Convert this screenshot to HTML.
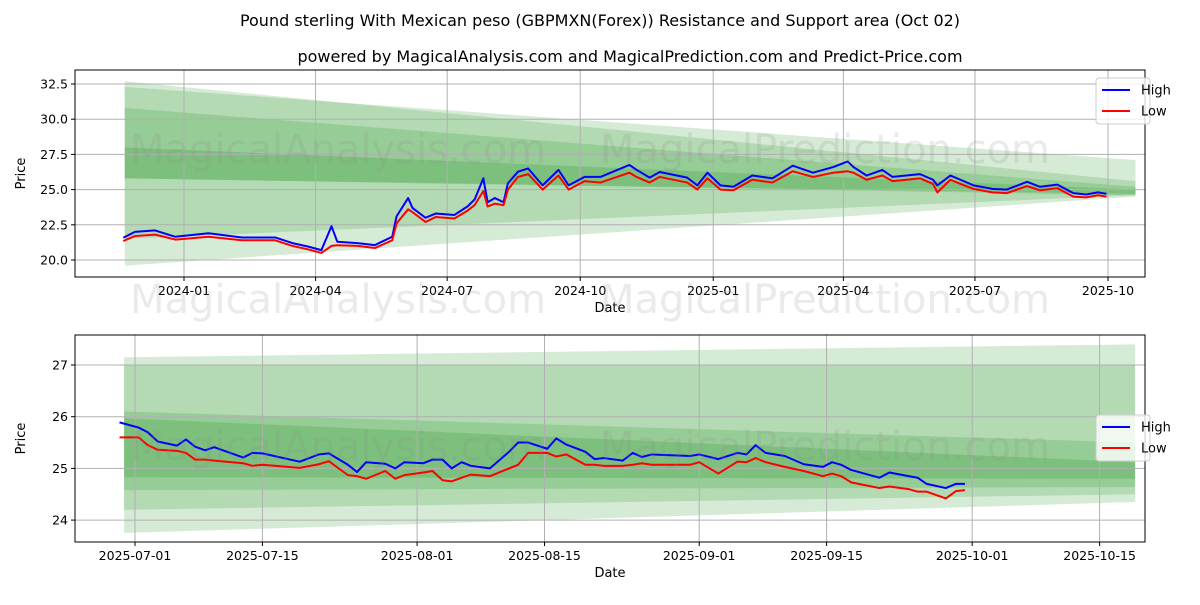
<!DOCTYPE html>
<html><head><meta charset="utf-8"><style>
body{margin:0;background:#fff;font-family:"Liberation Sans","DejaVu Sans",sans-serif}
svg text{font-family:"DejaVu Sans","Liberation Sans",sans-serif}
</style></head><body>
<svg id="s" width="1200" height="600" xmlns="http://www.w3.org/2000/svg">
<rect width="1200" height="600" fill="#fff"/>
<text x="600" y="26" text-anchor="middle" font-size="16">Pound sterling With Mexican peso (GBPMXN(Forex)) Resistance and Support area (Oct 02)</text>
<text x="630" y="62" text-anchor="middle" font-size="16">powered by MagicalAnalysis.com and MagicalPrediction.com and Predict-Price.com</text>
</svg>
<script>
// ---- top chart data (day offsets from 2024-01-01)
const topDays=[-42,-34,-20,-6,17,40,63,75,86,95,102,106,120,132,144,147,155,158,167,174,187,196,201,207,210,215,221,224,231,238,248,259,266,277,288,308,313,322,329,348,355,362,371,380,393,407,421,435,449,459,463,472,483,490,509,518,521,530,537,546,559,569,583,592,604,615,624,632,638];
const topHigh=[21.58,22.0,22.1,21.65,21.9,21.6,21.6,21.2,20.95,20.7,22.4,21.3,21.2,21.06,21.65,23.1,24.4,23.7,23.0,23.3,23.2,23.8,24.3,25.8,24.1,24.4,24.1,25.45,26.27,26.5,25.3,26.4,25.3,25.9,25.9,26.75,26.4,25.85,26.25,25.85,25.3,26.2,25.3,25.2,26.0,25.8,26.7,26.2,26.6,27.0,26.6,26.0,26.4,25.9,26.1,25.7,25.3,26.0,25.7,25.3,25.05,25.0,25.55,25.2,25.35,24.75,24.65,24.8,24.7];
const topLow=[21.35,21.7,21.8,21.45,21.65,21.4,21.4,21.0,20.75,20.5,21.0,21.05,21.0,20.85,21.4,22.6,23.6,23.4,22.7,23.05,22.95,23.5,23.9,24.9,23.8,24.0,23.9,25.0,25.9,26.1,25.0,26.0,25.0,25.6,25.5,26.2,25.9,25.5,25.9,25.5,25.0,25.8,25.0,24.95,25.7,25.5,26.3,25.9,26.2,26.3,26.2,25.7,26.0,25.6,25.8,25.4,24.8,25.7,25.4,25.05,24.8,24.75,25.25,24.95,25.1,24.5,24.45,24.6,24.5];
const topBands=[[32.7,19.6,25.6,24.5],[32.3,21.5,27.1,24.6],[30.8,25.8,25.2,24.7],[28.0,25.8,25.0,24.6]];
const topBandDays=[-41,658];
const topYTicks=[20.0,22.5,25.0,27.5,30.0,32.5];
const topXTicks=[0,91,182,274,366,456,547,639];
const topXLabels=["2024-01","2024-04","2024-07","2024-10","2025-01","2025-04","2025-07","2025-10"];
// ---- bottom chart data (day offsets from 2025-07-01)
const botDays=[-1.7,0.4,1.4,2.5,4.6,5.6,6.6,7.7,8.7,11.9,12.9,14.0,18.1,20.2,21.3,23.4,24.4,25.4,27.5,28.6,29.6,31.7,32.7,33.8,34.8,35.9,36.9,39.0,41.1,42.1,43.2,45.3,46.3,47.4,49.5,50.5,51.5,53.6,54.7,55.7,56.8,61.0,62.0,64.1,66.2,67.2,68.2,69.3,71.4,73.5,75.6,76.6,77.6,78.7,81.8,82.9,85.0,86.0,87.0,89.1,90.2,91.2];
const botHigh=[25.89,25.79,25.70,25.52,25.44,25.56,25.42,25.35,25.41,25.21,25.30,25.29,25.13,25.27,25.29,25.07,24.93,25.12,25.09,25.00,25.12,25.10,25.17,25.17,25.00,25.12,25.05,25.00,25.32,25.50,25.50,25.38,25.58,25.46,25.32,25.18,25.2,25.15,25.3,25.22,25.27,25.24,25.27,25.18,25.3,25.27,25.45,25.3,25.24,25.08,25.03,25.12,25.07,24.97,24.82,24.92,24.85,24.82,24.7,24.62,24.7,24.7];
const botLow=[25.6,25.6,25.45,25.36,25.34,25.3,25.17,25.17,25.15,25.1,25.05,25.07,25.01,25.08,25.14,24.87,24.85,24.8,24.95,24.8,24.87,24.92,24.95,24.77,24.75,24.82,24.88,24.85,25.0,25.07,25.3,25.3,25.23,25.27,25.07,25.07,25.05,25.05,25.07,25.1,25.07,25.07,25.12,24.9,25.13,25.12,25.2,25.12,25.03,24.95,24.85,24.9,24.85,24.73,24.62,24.65,24.6,24.55,24.55,24.42,24.56,24.58];
const botBands=[[27.15,23.75,27.4,24.35],[27.0,24.2,27.0,24.5],[26.1,24.58,25.5,24.64],[25.97,24.83,25.12,24.8]];
const botBandDays=[-1.2,109.9];
const botYTicks=[24,25,26,27];
const botXTicks=[0,14,31,45,62,76,92,106];
const botXLabels=["2025-07-01","2025-07-15","2025-08-01","2025-08-15","2025-09-01","2025-09-15","2025-10-01","2025-10-15"];

const NS="http://www.w3.org/2000/svg",S=document.getElementById('s');
function mk(t,a,p){const e=document.createElementNS(NS,t);for(const k in a)e.setAttribute(k,a[k]);(p||S).appendChild(e);return e;}
function panel(o){
  const g=mk('g',{});
  
  
  const X=d=>o.x0+(d-o.d0)*o.dx, Y=v=>o.y0-(v-o.v0)*o.dy;
  o.bands.forEach(b=>{
    const p=mk('polygon',{points:`${X(o.bd[0])},${Y(b[0])} ${X(o.bd[1])},${Y(b[2])} ${X(o.bd[1])},${Y(b[3])} ${X(o.bd[0])},${Y(b[1])}`,fill:'#008000','fill-opacity':0.16},g);
    
    
  });
  o.yt.forEach(v=>{const y=Y(v);
    mk('line',{x1:o.L,x2:o.R,y1:y,y2:y,stroke:'#b0b0b0','stroke-width':1},g);
    mk('line',{x1:o.L-4,x2:o.L,y1:y,y2:y,stroke:'#000'},g);
    const t=mk('text',{x:o.L-7,y:y+4.5,'text-anchor':'end','font-size':12.5},g);t.textContent=o.yfmt(v);
    
    });
  o.xt.forEach((d,i)=>{const x=X(d);
    mk('line',{x1:x,x2:x,y1:o.T,y2:o.B,stroke:'#b0b0b0','stroke-width':1},g);
    mk('line',{x1:x,x2:x,y1:o.B,y2:o.B+4,stroke:'#000'},g);
    const t=mk('text',{x:x,y:o.B+18,'text-anchor':'middle','font-size':12.5},g);t.textContent=o.xl[i];
    
    });
  [[o.hi,'#0000ff','high-line'],[o.lo,'#ff0000','low-line']].forEach(([arr,c,n])=>{
    const l=mk('polyline',{points:o.days.map((d,i)=>X(d)+','+Y(arr[i])).join(' '),fill:'none',stroke:c,'stroke-width':2,'stroke-linejoin':'round'},g);
    
    });
  mk('rect',{x:o.L,y:o.T,width:o.R-o.L,height:o.B-o.T,fill:'none',stroke:'#000','stroke-width':1},g);
  const xt=mk('text',{x:(o.L+o.R)/2,y:o.B+35,'text-anchor':'middle','font-size':13},g);xt.textContent='Date';
  
  
  const yt=mk('text',{x:0,y:0,'text-anchor':'middle','font-size':13,transform:`translate(${o.L-50},${(o.T+o.B)/2}) rotate(-90)`},g);yt.textContent='Price';
  
  
  const lg=mk('g',{},g);
  
  
  mk('rect',{x:1096,y:o.lgY,width:54,height:46,rx:3,fill:'#fff','fill-opacity':0.8,stroke:'#ccc'},lg);
  [['High','#0000ff'],['Low','#ff0000']].forEach(([n,c],i)=>{const y=o.lgY+12+i*21;
    mk('line',{x1:1102,x2:1130,y1:y,y2:y,stroke:c,'stroke-width':2},lg);
    const t=mk('text',{x:1141,y:y+4.5,'font-size':13},lg);t.textContent=n;});
}
function wm(x,y,t){const e=mk('text',{x:x,y:y,'font-size':40,fill:'#888','fill-opacity':0.18});e.textContent=t;
  
  }
panel({name:'top-panel',L:75,R:1145,T:70,B:277,x0:184,d0:0,dx:1.446,y0:260,v0:20,dy:14.08,bands:topBands,bd:topBandDays,yt:topYTicks,xt:topXTicks,xl:topXLabels,yfmt:v=>v.toFixed(1),days:topDays,hi:topHigh,lo:topLow,lgY:78});
panel({name:'bottom-panel',L:75,R:1145,T:335,B:542,x0:135,d0:0,dx:9.1,y0:365,v0:27,dy:51.7,bands:botBands,bd:botBandDays,yt:botYTicks,xt:botXTicks,xl:botXLabels,yfmt:v=>String(v),days:botDays,hi:botHigh,lo:botLow,lgY:415});
wm(130,163,'MagicalAnalysis.com');wm(600,163,'MagicalPrediction.com');
wm(130,313,'MagicalAnalysis.com');wm(600,313,'MagicalPrediction.com');
wm(130,460,'MagicalAnalysis.com');wm(600,460,'MagicalPrediction.com');
</script>
</body></html>
